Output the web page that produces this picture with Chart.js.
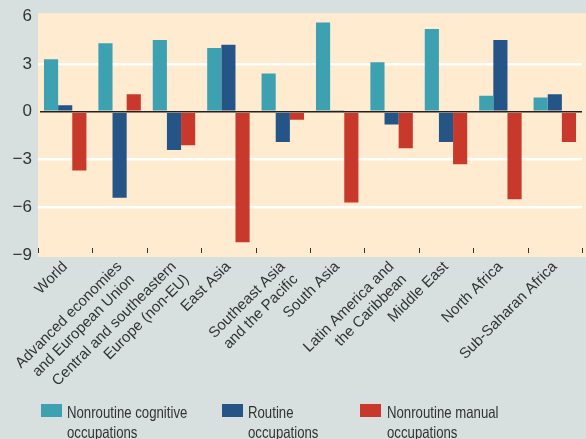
<!DOCTYPE html>
<html>
<head>
<meta charset="utf-8">
<script src="https://cdn.jsdelivr.net/npm/chart.js@4.4.1/dist/chart.umd.min.js"></script>
<style>
  html, body { margin: 0; padding: 0; background: #d7dfdf; }
  #wrap { position: relative; width: 586px; height: 439px; overflow: hidden; }
  #legend { position: absolute; left: 0; top: 402px; width: 586px; height: 37px;
    font-family: "Liberation Sans", Arial, sans-serif; font-size: 16.5px; color: #333; }
  .box { position: absolute; top: 2px; width: 21px; height: 13px; }
  .txt { position: absolute; top: 0px; line-height: 20px; white-space: nowrap;
    transform: scaleX(0.8); transform-origin: 0 0; }
</style>
</head>
<body>
<div id="wrap">
  <canvas id="chart" width="586" height="439"></canvas>
  <div id="legend"></div>
</div>
<script>
// regions on the x axis (multi-line labels)
const regions = [
  ['World'],
  ['Advanced economies', 'and European Union'],
  ['Central and southeastern', 'Europe (non-EU)'],
  ['East Asia'],
  ['Southeast Asia', 'and the Pacific'],
  ['South Asia'],
  ['Latin America and', 'the Caribbean'],
  ['Middle East'],
  ['North Africa'],
  ['Sub-Saharan Africa']
];

const cognitive = [3.3, 4.3, 4.5, 4.0, 2.4, 5.6, 3.1, 5.2, 1.0, 0.9];
const routine   = [0.4, -5.4, -2.4, 4.2, -1.9, 0.1, -0.8, -1.9, 4.5, 1.1];
const manual    = [-3.7, 1.1, -2.1, -8.2, -0.5, -5.7, -2.3, -3.3, -5.5, -1.9];

const seriesNames = [
  ['Nonroutine cognitive', 'occupations'],
  ['Routine', 'occupations'],
  ['Nonroutine manual', 'occupations']
];
const seriesColors = ['#3ea1b2', '#255487', '#c9392b'];
const yTicks = [-9, -6, -3, 0, 3, 6];

const FONT = '"Liberation Sans", Arial, sans-serif';

// plot background, slightly larger than the axis range
const plotBg = {
  id: 'plotBg',
  beforeDraw(chart) {
    const a = chart.chartArea, ctx = chart.ctx;
    ctx.save();
    ctx.fillStyle = '#ffebcf';
    ctx.fillRect(a.left, a.top - 3, 586 - a.left, a.bottom - a.top + 5);
    ctx.restore();
  }
};

// small tick marks inside the plot at category boundaries + zero line on top
const marks = {
  id: 'marks',
  afterDatasetsDraw(chart) {
    const a = chart.chartArea, ctx = chart.ctx;
    const x = chart.scales.x, y = chart.scales.y;
    const n = regions.length;
    ctx.save();
    ctx.strokeStyle = '#333';
    ctx.lineWidth = 1;
    for (let i = 0; i <= n; i++) {
      const px = Math.round(x.left + i * (x.right - x.left) / n) + 0.5;
      ctx.beginPath();
      ctx.moveTo(px, a.bottom - 7);
      ctx.lineTo(px, a.bottom - 2);
      ctx.stroke();
    }
    const y0 = y.getPixelForValue(0);
    ctx.strokeStyle = '#222';
    ctx.lineWidth = 1.5;
    ctx.beginPath();
    ctx.moveTo(a.left + 2, y0);
    ctx.lineTo(a.right, y0);
    ctx.stroke();
    ctx.restore();
  }
};

const chart = new Chart(document.getElementById('chart'), {
  type: 'bar',
  data: {
    labels: regions,
    datasets: [
      { label: seriesNames[0].join(' '), data: cognitive, backgroundColor: seriesColors[0] },
      { label: seriesNames[1].join(' '), data: routine, backgroundColor: seriesColors[1] },
      { label: seriesNames[2].join(' '), data: manual, backgroundColor: seriesColors[2] }
    ]
  },
  options: {
    responsive: false,
    animation: false,
    layout: { padding: { top: 15, right: 4, left: 0, bottom: 0 } },
    datasets: { bar: { categoryPercentage: 0.78, barPercentage: 1.0 } },
    plugins: { legend: { display: false }, tooltip: { enabled: false } },
    scales: {
      x: {
        grid: { display: false },
        border: { display: false },
        ticks: {
          autoSkip: false, minRotation: 45, maxRotation: 45, padding: -5,
          color: '#333', font: { family: FONT, size: 15, lineHeight: 1.2 }
        },
        afterFit(scale) { scale.height = 439 - 255; }
      },
      y: {
        min: -9, max: 6,
        border: { display: false },
        afterBuildTicks(axis) { axis.ticks = yTicks.map(v => ({ value: v })); },
        grid: {
          drawTicks: false,
          color: ctx => (ctx.tick && (ctx.tick.value === 0 || ctx.tick.value === 6 || ctx.tick.value === -9)) ? 'rgba(0,0,0,0)' : '#ffffff',
          lineWidth: 2.5
        },
        ticks: {
          padding: 6, color: '#333',
          font: { family: FONT, size: 17 },
          callback: v => v < 0 ? '\u2212' + Math.abs(v) : String(v)
        },
        afterFit(scale) { scale.width = 38; }
      }
    }
  },
  plugins: [plotBg, marks]
});

// HTML legend built from the series
const legendPos = [[41, 67], [222, 248], [360, 387]];
const legend = document.getElementById('legend');
seriesNames.forEach((name, i) => {
  const box = document.createElement('div');
  box.className = 'box';
  box.style.left = legendPos[i][0] + 'px';
  box.style.background = seriesColors[i];
  const txt = document.createElement('div');
  txt.className = 'txt';
  txt.style.left = legendPos[i][1] + 'px';
  txt.innerHTML = name.join('<br>');
  legend.appendChild(box);
  legend.appendChild(txt);
});
</script>
</body>
</html>
